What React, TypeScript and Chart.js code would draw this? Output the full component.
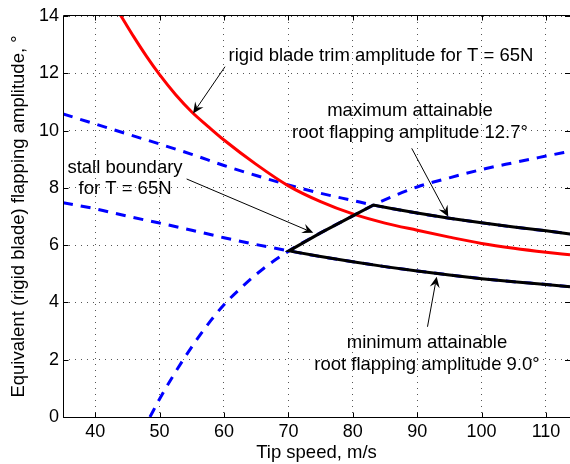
import React, { useEffect, useRef } from 'react';
import { Chart, registerables } from 'chart.js';

Chart.register(...registerables);

// ---- axes ----
const xTicks = [40, 50, 60, 70, 80, 90, 100, 110];
const yTicks = [0, 2, 4, 6, 8, 10, 12, 14];
const X_MIN = 35;
const X_MAX = 113.73;
const Y_MIN = 0;
const Y_MAX = 14;

// ---- rigid blade trim amplitude for T = 65N (red) ----
const redX = [43, 44, 46, 48, 50, 52.5, 55, 57.5, 60, 65, 70, 75, 80, 85, 90, 95, 100, 105, 110, 113.73];
const redY = [14.35, 14.0, 13.27, 12.58, 11.95, 11.25, 10.65, 10.15, 9.67, 8.82, 8.07, 7.52, 7.09, 6.77, 6.52, 6.28, 6.06, 5.89, 5.75, 5.66];

// ---- maximum attainable root flapping amplitude 12.7° (blue dashed) ----
const maxX = [35, 40, 45, 50, 55, 60, 65, 70, 75, 80, 83.2, 86, 90, 95, 100, 105, 110, 113.73];
const maxY = [10.58, 10.23, 9.88, 9.53, 9.17, 8.78, 8.43, 8.1, 7.81, 7.56, 7.4, 7.28, 7.12, 6.94, 6.78, 6.63, 6.5, 6.39];

// ---- minimum attainable root flapping amplitude 9.0° (blue dashed) ----
const minX = [35, 40, 45, 50, 55, 60, 65, 70.1, 75, 80, 85, 90, 95, 100, 105, 110, 113.73];
const minY = [7.48, 7.27, 7.01, 6.77, 6.52, 6.26, 6.02, 5.8, 5.6, 5.42, 5.25, 5.1, 4.96, 4.83, 4.72, 4.63, 4.55];

// ---- stall boundary for T = 65N (blue dashed) ----
const stallX = [48.5, 50, 52, 55, 58, 60, 63, 66, 70.1, 75, 80, 83.2, 90, 95, 100, 105, 110, 113.73];
const stallY = [0, 0.63, 1.4, 2.45, 3.38, 3.92, 4.58, 5.16, 5.8, 6.43, 7.02, 7.4, 8.03, 8.35, 8.64, 8.88, 9.11, 9.28];

// ---- attainable region boundary (black) ----
const boundX = [113.73, 110, 105, 100, 95, 90, 86, 83.2, 80, 75, 70.1, 75, 80, 85, 90, 95, 100, 105, 110, 113.73];
const boundY = [6.39, 6.5, 6.63, 6.78, 6.94, 7.12, 7.28, 7.4, 7.02, 6.43, 5.8, 5.6, 5.42, 5.25, 5.1, 4.96, 4.83, 4.72, 4.63, 4.55];

// ---- annotations (data coordinates) ----
const labelLines = [
  { text: 'rigid blade trim amplitude for T = 65N', x: 84.38, y: 12.43 },
  { text: 'maximum attainable', x: 88.88, y: 10.51 },
  { text: 'root flapping amplitude 12.7°', x: 88.88, y: 9.74 },
  { text: 'stall boundary', x: 44.63, y: 8.51 },
  { text: 'for T = 65N', x: 44.63, y: 7.78 },
  { text: 'minimum attainable', x: 91.52, y: 2.4 },
  { text: 'root flapping amplitude 9.0°', x: 91.52, y: 1.64 },
];
const arrows = [
  { x0: 60.16, y0: 12.23, x1: 55.2, y1: 10.6 },
  { x0: 89.15, y0: 9.38, x1: 94.83, y1: 6.99 },
  { x0: 54.2, y0: 8.31, x1: 73.87, y1: 6.43 },
  { x0: 91.6, y0: 3.15, x1: 93.03, y1: 4.9 },
];

const FONT = "'Liberation Sans', Arial, Helvetica, sans-serif";

const toXY = (xs: number[], ys: number[]) => xs.map((x, i) => ({ x, y: ys[i] }));

function drawArrow(ctx: CanvasRenderingContext2D, x0: number, y0: number, x1: number, y1: number) {
  const ang = Math.atan2(y1 - y0, x1 - x0);
  const c = Math.cos(ang);
  const s = Math.sin(ang);
  const L = 11;
  const W = 5;
  const N = 7;
  ctx.beginPath();
  ctx.moveTo(x0, y0);
  ctx.lineTo(x1 - N * c, y1 - N * s);
  ctx.stroke();
  ctx.beginPath();
  ctx.moveTo(x1, y1);
  ctx.lineTo(x1 - L * c - W * s, y1 - L * s + W * c);
  ctx.lineTo(x1 - N * c, y1 - N * s);
  ctx.lineTo(x1 - L * c + W * s, y1 - L * s - W * c);
  ctx.closePath();
  ctx.fill();
}

const framePlugin = {
  id: 'frameAnno',
  afterDraw(chart: any) {
    const { ctx, chartArea: a, scales } = chart;
    const xs = scales.x;
    const ys = scales.y;
    ctx.save();
    ctx.strokeStyle = '#000';
    ctx.fillStyle = '#000';
    ctx.lineWidth = 1;
    const L = Math.floor(a.left) + 0.5;
    const B = Math.round(a.bottom) + 0.5;
    const T = Math.round(a.top) - 0.5;
    const R = a.right;
    ctx.beginPath();
    ctx.moveTo(L, T);
    ctx.lineTo(R + 1, T);
    ctx.moveTo(L, T);
    ctx.lineTo(L, B);
    ctx.lineTo(R + 1, B);
    ctx.stroke();
    // inside tick marks
    const tl = 5;
    ctx.beginPath();
    xTicks.forEach((v) => {
      const px = Math.round(xs.getPixelForValue(v)) + 0.5;
      ctx.moveTo(px, B);
      ctx.lineTo(px, B - tl);
      ctx.moveTo(px, T);
      ctx.lineTo(px, T + tl);
    });
    yTicks.forEach((v) => {
      const py = Math.round(ys.getPixelForValue(v)) + 0.5;
      ctx.moveTo(L, py);
      ctx.lineTo(L + tl, py);
      ctx.moveTo(R, py);
      ctx.lineTo(R - tl, py);
    });
    ctx.stroke();
    // arrows
    arrows.forEach((ar) => {
      drawArrow(
        ctx,
        xs.getPixelForValue(ar.x0),
        ys.getPixelForValue(ar.y0),
        xs.getPixelForValue(ar.x1),
        ys.getPixelForValue(ar.y1)
      );
    });
    // labels
    ctx.font = `18.5px ${FONT}`;
    ctx.textAlign = 'center';
    ctx.textBaseline = 'alphabetic';
    labelLines.forEach((l) => {
      ctx.fillText(l.text, xs.getPixelForValue(l.x), ys.getPixelForValue(l.y));
    });
    ctx.restore();
  },
};

export default function App() {
  const ref = useRef<HTMLCanvasElement | null>(null);
  useEffect(() => {
    if (!ref.current) return;
    const chart = new Chart(ref.current, {
      type: 'line',
      data: {
        datasets: [
          {
            label: 'attainable boundary',
            data: toXY(boundX, boundY),
            borderColor: '#000000',
            borderWidth: 3,
            pointRadius: 0,
            tension: 0,
            fill: false,
            order: 0,
            clip: 0,
          },
          {
            label: 'rigid blade trim amplitude',
            data: toXY(redX, redY),
            borderColor: '#ff0000',
            borderWidth: 3,
            pointRadius: 0,
            cubicInterpolationMode: 'monotone',
            fill: false,
            order: 1,
            clip: 0,
          },
          {
            label: 'maximum attainable 12.7°',
            data: toXY(maxX, maxY),
            borderColor: '#0000ff',
            borderWidth: 3,
            borderDash: [10, 8],
            pointRadius: 0,
            cubicInterpolationMode: 'monotone',
            fill: false,
            order: 2,
            clip: 0,
          },
          {
            label: 'minimum attainable 9.0°',
            data: toXY(minX, minY),
            borderColor: '#0000ff',
            borderWidth: 3,
            borderDash: [10, 8],
            pointRadius: 0,
            cubicInterpolationMode: 'monotone',
            fill: false,
            order: 3,
            clip: 0,
          },
          {
            label: 'stall boundary',
            data: toXY(stallX, stallY),
            borderColor: '#0000ff',
            borderWidth: 3,
            borderDash: [10, 8],
            pointRadius: 0,
            cubicInterpolationMode: 'monotone',
            fill: false,
            order: 4,
            clip: 0,
          },
        ],
      },
      options: {
        responsive: false,
        animation: false,
        devicePixelRatio: 1,
        layout: { padding: { top: 16, left: 0, right: 0, bottom: 0 } },
        plugins: { legend: { display: false }, tooltip: { enabled: false } },
        scales: {
          x: {
            type: 'linear',
            min: X_MIN,
            max: X_MAX,
            afterBuildTicks: (s: any) => {
              s.ticks = xTicks.map((v) => ({ value: v }));
            },
            afterFit: (s: any) => {
              s.height = 47;
            },
            ticks: {
              font: { family: FONT, size: 18 },
              color: '#000',
              padding: 4,
              maxRotation: 0,
              autoSkip: false,
              callback: (v: any) => String(v),
            },
            grid: { color: '#555', lineWidth: 1, drawTicks: false, tickLength: 0 },
            border: { display: false, dash: [1, 5] },
            title: {
              display: true,
              text: 'Tip speed, m/s',
              font: { family: FONT, size: 18.5 },
              color: '#000',
              padding: { top: 0, bottom: 0 },
            },
          },
          y: {
            type: 'linear',
            min: Y_MIN,
            max: Y_MAX,
            afterBuildTicks: (s: any) => {
              s.ticks = yTicks.map((v) => ({ value: v }));
            },
            afterFit: (s: any) => {
              s.width = 63;
            },
            ticks: {
              font: { family: FONT, size: 18 },
              color: '#000',
              padding: 4,
              autoSkip: false,
              callback: (v: any) => String(v),
            },
            grid: { color: '#555', lineWidth: 1, drawTicks: false, tickLength: 0 },
            border: { display: false, dash: [1, 5] },
            title: {
              display: true,
              text: 'Equivalent (rigid blade) flapping amplitude, °',
              font: { family: FONT, size: 18.5 },
              color: '#000',
              padding: { top: 8, bottom: 0 },
            },
          },
        },
      },
      plugins: [framePlugin],
    });
    return () => chart.destroy();
  }, []);
  return (
    <div style={{ position: 'fixed', left: 0, top: 0, width: 570, height: 464, overflow: 'hidden', background: '#fff' }}>
      <canvas ref={ref} width={570} height={464} style={{ display: 'block', width: 570, height: 464 }} />
    </div>
  );
}
